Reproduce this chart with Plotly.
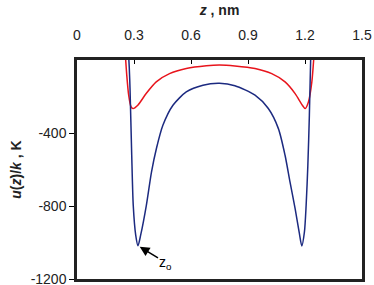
import plotly.graph_objects as go

# Blue curve (z in nm, u/k in K)
blue_z = [0.268, 0.275, 0.279, 0.288, 0.296, 0.309, 0.321, 0.335, 0.365, 0.392, 0.418,
          0.452, 0.505, 0.575, 0.663, 0.750, 0.831, 0.937, 1.007, 1.060, 1.095, 1.121,
          1.148, 1.169, 1.183, 1.197, 1.206, 1.215, 1.223, 1.232]
blue_u = [100, -40, -155, -522, -796, -960, -1018, -960, -796, -614, -485,
          -358, -248, -175, -138, -128, -141, -193, -266, -376, -522, -668,
          -814, -942, -1019, -942, -796, -577, -303, 100]

# Red curve
red_z = [0.250, 0.262, 0.272, 0.284, 0.295, 0.320, 0.364, 0.417, 0.487, 0.575, 0.681,
         0.750, 0.831, 0.937, 1.025, 1.095, 1.148, 1.186, 1.201, 1.218, 1.236, 1.252]
red_u = [100, -84, -193, -255, -266, -248, -184, -120, -75, -47, -32,
         -28, -33, -47, -75, -120, -184, -248, -266, -230, -120, 100]

x_ticks = [0, 0.3, 0.6, 0.9, 1.2, 1.5]
x_tick_labels = ["0", "0.3", "0.6", "0.9", "1.2", "1.5"]
y_ticks = [-400, -800, -1200]
y_tick_labels = ["-400", "-800", "-1200"]

font_family = "Arial, Liberation Sans, sans-serif"

fig = go.Figure()
fig.add_trace(go.Scatter(x=red_z, y=red_u, mode="lines", line=dict(color="#e8141c", width=1.5, shape="spline", smoothing=0.7),
                         showlegend=False, hoverinfo="skip"))
fig.add_trace(go.Scatter(x=blue_z, y=blue_u, mode="lines", line=dict(color="#1c2a80", width=1.5, shape="spline", smoothing=0.7),
                         showlegend=False, hoverinfo="skip"))

fig.add_annotation(x=blue_z[6], y=blue_u[6], ax=28, ay=17, xref="x", yref="y",
                   text="z<sub>o</sub>", showarrow=True, arrowhead=2, arrowsize=1.3,
                   arrowwidth=1.5, arrowcolor="black", standoff=2,
                   font=dict(family=font_family, size=14, color="black"))

fig.update_layout(
    width=374, height=285,
    margin=dict(l=77, r=12, t=60, b=6, autoexpand=False),
    paper_bgcolor="white", plot_bgcolor="white",
    font=dict(family=font_family, size=14, color="#222"),
    xaxis=dict(side="top", range=[0, 1.5], tickvals=x_ticks, ticktext=x_tick_labels,
               ticks="inside", ticklen=4, tickwidth=1.2, tickcolor="black",
               ticklabelstandoff=12,
               showline=True, linecolor="#222", linewidth=2.5, mirror=True,
               showgrid=False, zeroline=False, automargin=False,
               title=dict(text="<b><i>z</i> , nm</b>", font=dict(size=14, color="#222"), standoff=8)),
    yaxis=dict(range=[-1200, 0], tickvals=y_ticks, ticktext=y_tick_labels,
               ticks="outside", ticklen=5, tickwidth=1.2, tickcolor="black",
               ticklabeloverflow="allow",
               showline=True, linecolor="#222", linewidth=2.5, mirror=True,
               showgrid=False, zeroline=False, automargin=False,
               title=dict(text="<b><i>u</i>(<i>z</i>)/<i>k</i> , K</b>", font=dict(size=14, color="#222"), standoff=6)),
)

fig.write_html("out.html", config={"displayModeBar": False},
               post_script="document.body.style.margin='0';document.body.style.padding='0';")
